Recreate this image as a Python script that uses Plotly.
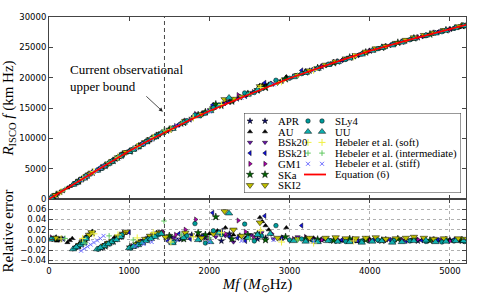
import plotly.graph_objects as go

# ---------------- data ----------------
EQ_X = [0, 250, 500, 750, 1000, 1250, 1500, 1750, 2000, 2500, 3000, 3500, 4000, 4500, 5000, 5200]
EQ_Y = [0, 2000, 4000, 5950, 7900, 9680, 11380, 12990, 14500, 17270, 19900, 22240, 24400, 26290, 28000, 28700]

APR_X = [60, 140, 340, 410, 480, 650, 740, 830, 920, 1060, 1160, 1260, 1370, 1520, 1650, 1780, 1950, 2150, 2380, 2600, 2900, 3250, 3600, 4000, 4400, 4800, 5150,
         3400, 3800, 4200, 4600, 5000, 1900, 2250, 2700, 370, 450, 700, 880, 1110, 1320]
APR_Y = [480, 1120, 2680, 3260, 3860, 5090, 5830, 6580, 7350, 8230, 9020, 9790, 10620, 11580, 12380, 13310, 14260, 15310, 16760, 17840, 19480, 21120, 22610, 24400, 25890, 27380, 28470,
         21820, 23480, 25190, 26600, 28000, 13980, 16090, 18420, 2930, 3600, 5510, 7010, 8630, 10260]
APR_E = [0.002, 0.001, -0.014, -0.005, 0.006, -0.016, -0.008, 0.001, 0.010, -0.012, -0.004, 0.004, 0.012, 0.006, 0.002, 0.010, 0.004, -0.002, 0.008, 0.002, 0.004, 0.001, -0.002, 0.000, -0.001, 0.001, -0.002,
         0.000, -0.001, 0.001, -0.002, 0.000, 0.006, 0.012, 0.004, -0.011, 0.000, -0.009, 0.006, -0.007, 0.010]

AU_X = [20, 100, 130, 160, 230, 260, 290, 320, 390, 460, 530, 620, 720, 820, 950, 1030, 1140, 1250, 1360, 1600, 1850, 2000, 2100, 2200, 2630, 2660, 2700, 2740, 2960, 3300, 3650, 4000, 4300, 4650, 5000, 5180,
        3450, 3850, 4150, 4500, 4850, 5100, 2300, 2450, 350, 500, 670, 870, 1090, 1300]
AU_Y = [160, 800, 1040, 1290, 1830, 2080, 2330, 2520, 3100, 3700, 4290, 4850, 5680, 6530, 7620, 8010, 8870, 9740, 10570, 12040, 13710, 14670, 15330, 16000, 18760, 18780, 18860, 18940, 20170, 21430, 22820, 24420, 25490, 26830, 27970, 28540,
        22050, 23650, 24970, 26240, 27490, 28290, 16340, 17070, 2770, 4040, 5260, 6940, 8480, 10120]
AU_E = [0.001, -0.002, 0.002, 0.004, -0.005, -0.001, 0.003, -0.016, -0.006, 0.006, 0.014, -0.017, -0.006, 0.006, 0.014, -0.013, -0.004, 0.006, 0.014, 0.000, 0.008, 0.012, 0.018, 0.024, 0.044, 0.036, 0.028, 0.020, 0.024, 0.004, -0.002, 0.001, -0.002, 0.000, -0.001, -0.003,
        0.001, -0.003, 0.000, -0.002, -0.001, -0.002, 0.010, 0.004, -0.012, 0.010, -0.012, 0.008, -0.008, 0.010]

BSK20_X = [50, 350, 430, 510, 660, 770, 880, 970, 1080, 1180, 1300, 1400, 1560, 1700, 1880, 2080, 2300, 2520, 2800, 3100, 3500, 3900, 4300, 4700, 5100,
           3300, 3700, 4100, 4500, 4900, 2200, 2650]
BSK20_Y = [400, 2760, 3430, 4120, 5170, 6070, 7000, 7770, 8380, 9180, 10100, 10870, 11820, 12810, 13780, 15040, 16120, 17550, 18940, 20500, 22240, 23930, 25570, 26950, 28350,
           21380, 23100, 24760, 26290, 27710, 15740, 18330]
BSK20_E = [0.003, -0.013, -0.002, 0.011, -0.015, -0.006, 0.005, 0.014, -0.011, -0.002, 0.008, 0.016, 0.004, 0.010, 0.000, 0.006, -0.004, 0.010, 0.002, 0.006, 0.000, -0.001, 0.001, -0.002, 0.000,
           0.002, 0.001, -0.001, 0.000, 0.001, 0.008, 0.014]

BSK21_X = [70, 180, 360, 440, 520, 680, 790, 900, 1000, 1100, 1220, 1330, 1480, 1620, 1760, 1920, 2040, 2250, 2450, 2690, 2900, 3150, 3450, 3850, 4250, 4650, 5050,
           3650, 4050, 4450, 4850, 5180, 2150, 2350]
BSK21_Y = [560, 1440, 2850, 3520, 4210, 5330, 6240, 7170, 8020, 8530, 9480, 10330, 11220, 12310, 13080, 14130, 15500, 16000, 16970, 19160, 19480, 21200, 22050, 23680, 25350, 26800, 28200,
           22870, 24620, 26050, 27520, 28600, 15620, 16530]
BSK21_E = [0.004, 0.002, -0.012, 0.000, 0.012, -0.014, -0.004, 0.007, 0.015, -0.010, 0.000, 0.010, -0.002, 0.012, 0.002, 0.008, 0.053, 0.006, -0.002, 0.047, 0.004, 0.028, 0.001, -0.002, 0.000, -0.001, 0.001,
           0.000, 0.001, -0.002, 0.000, -0.001, 0.018, 0.004]

GM1_X = [30, 310, 400, 490, 630, 720, 810, 930, 1040, 1150, 1280, 1420, 1580, 1830, 1990, 2200, 2360, 2550, 2780, 3050, 3400, 3800, 4200, 4600, 5000,
         3200, 3600, 4000, 4400, 4800, 5150, 2450, 1700, 350, 450, 680, 870, 1100, 1220]
GM1_Y = [240, 2440, 3180, 3950, 4930, 5660, 6420, 7450, 8090, 8950, 9960, 11010, 12030, 14020, 14500, 15810, 17140, 17640, 19020, 20180, 21820, 23550, 25130, 26680, 27940,
         20990, 22670, 24380, 25920, 27380, 28500, 17280, 12930, 2770, 3600, 5340, 6930, 8550, 9500]
GM1_E = [0.005, -0.017, -0.007, 0.008, -0.017, -0.009, 0.000, 0.013, -0.012, -0.003, 0.008, 0.016, 0.010, 0.040, 0.004, 0.012, 0.038, 0.006, 0.012, 0.002, 0.000, 0.002, -0.001, 0.001, -0.002,
         0.006, 0.001, -0.001, 0.000, 0.001, -0.001, 0.016, 0.020, -0.012, 0.000, -0.012, 0.006, -0.008, 0.002]

SKA_X = [90, 370, 450, 540, 700, 800, 900, 1010, 1120, 1230, 1340, 1500, 1680, 1860, 2080, 2280, 2480, 2700, 2950, 3200, 3550, 3950, 4350, 4750, 5150,
         3350, 3750, 4150, 4550, 4950, 2600, 1950]
SKA_Y = [720, 2930, 3600, 4370, 5490, 6320, 7180, 7860, 8710, 9570, 10420, 11470, 12580, 13850, 15620, 16100, 17340, 18350, 19770, 20900, 22420, 24180, 25780, 27150, 28530,
         21600, 23340, 24950, 26500, 27840, 18010, 14340]
SKA_E = [0.003, -0.011, 0.001, 0.014, -0.012, -0.003, 0.008, -0.014, -0.006, 0.003, 0.012, 0.008, 0.002, 0.014, 0.045, 0.002, 0.010, 0.000, 0.006, 0.002, -0.001, 0.000, 0.002, -0.001, 0.000,
         0.001, 0.002, -0.001, 0.001, 0.000, 0.012, 0.010]

SKI2_X = [80, 380, 470, 530, 690, 790, 860, 960, 1090, 1200, 1320, 1450, 1700, 1900, 2190, 2400, 2630, 2850, 3100, 3450, 3700, 3950, 4200, 4450, 4550, 4800, 5100,
          3250, 3575, 3825, 4075, 4325, 4675, 4925, 5180, 2050, 2300, 420, 500, 740, 920, 1140, 1260, 1380]
SKI2_Y = [640, 3010, 3780, 4300, 5420, 6250, 6850, 7710, 8480, 9360, 10280, 11110, 12860, 13960, 16440, 16870, 18580, 19230, 20420, 22120, 23150, 24270, 25210, 26210, 26630, 27400, 28440,
          21180, 22660, 23680, 24810, 25710, 27020, 27840, 28690, 14960, 16500, 3350, 4040, 5840, 7360, 8870, 9830, 10710]
SKI2_E = [0.004, -0.010, 0.004, 0.015, -0.011, -0.002, 0.006, 0.016, -0.008, 0.002, 0.012, 0.006, 0.014, 0.004, 0.056, 0.008, 0.034, 0.004, 0.002, 0.004, 0.003, 0.004, 0.002, 0.004, 0.006, 0.002, 0.003,
          0.004, 0.005, 0.003, 0.005, 0.003, 0.004, 0.003, 0.002, 0.012, 0.020, -0.004, 0.010, -0.006, 0.012, -0.004, 0.008, 0.014]

SLY4_X = [40, 320, 400, 470, 610, 700, 800, 910, 1020, 1120, 1240, 1360, 1560, 1720, 1820, 1950, 2150, 2440, 2560, 2830, 3000, 3300, 3700, 4100, 4500, 4900, 5180,
          3150, 3500, 3900, 4300, 4700, 5050, 2050, 2650, 360, 430, 650, 750, 860, 1070, 1180, 1300]
SLY4_Y = [320, 2520, 3170, 3780, 4770, 5500, 6330, 7270, 7920, 8690, 9630, 10530, 11730, 12910, 13850, 14120, 15490, 17480, 17550, 19580, 19900, 21300, 23010, 24780, 26240, 27570, 28540,
          20660, 22220, 23900, 25510, 26920, 28120, 15050, 18220, 2850, 3430, 5100, 5910, 6830, 8300, 9160, 10080]
SLY4_E = [0.002, -0.016, -0.008, 0.004, -0.018, -0.010, -0.001, 0.010, -0.016, -0.008, 0.002, 0.010, -0.004, 0.008, 0.032, -0.006, 0.010, 0.031, -0.002, 0.028, 0.000, -0.002, -0.003, 0.000, -0.002, -0.004, -0.003,
          0.002, -0.001, -0.002, -0.001, -0.003, -0.002, 0.018, 0.008, -0.012, -0.004, -0.014, -0.006, 0.004, -0.012, -0.004, 0.006]

UU_X = [25, 300, 390, 460, 600, 690, 780, 890, 1000, 1110, 1210, 1320, 1400, 1540, 1680, 1860, 2010, 2245, 2480, 2760, 3050, 3350, 3600, 3900, 4150, 4400, 4700, 4950, 5170,
        3200, 3480, 3750, 4030, 4280, 4550, 4820, 5070, 2120, 2600, 340, 430, 640, 740, 840, 1050, 1160, 1270]
UU_Y = [200, 2360, 3090, 3690, 4690, 5420, 6160, 7080, 7770, 8610, 9390, 10220, 10830, 11570, 12600, 13660, 14500, 16700, 17230, 18900, 20100, 21490, 22580, 23830, 24920, 25820, 26970, 27760, 28540,
        20800, 22110, 23200, 24440, 25340, 26420, 27310, 28190, 15380, 17980, 2680, 3420, 5020, 5830, 6650, 8150, 9000, 9840]
UU_E = [0.001, -0.018, -0.010, 0.002, -0.018, -0.012, -0.004, 0.006, -0.016, -0.010, -0.002, 0.006, 0.012, -0.006, 0.004, 0.000, -0.004, 0.052, 0.004, 0.012, -0.002, -0.004, -0.003, -0.005, -0.002, -0.004, -0.001, -0.003, -0.002,
        -0.003, -0.002, -0.004, -0.003, -0.005, -0.002, -0.004, -0.002, 0.014, 0.010, -0.014, -0.006, -0.015, -0.008, 0.000, -0.013, -0.006, 0.002]

HSOFT_X = [150, 420, 560, 860, 1100, 1300, 1520, 1800, 2150, 2640, 2900, 3300, 3800]
HSOFT_Y = [1200, 3370, 4520, 6880, 8650, 10160, 11470, 13380, 15560, 18360, 19320, 21210, 23450]
HSOFT_E = [0.002, 0.003, 0.012, 0.010, 0.004, 0.014, -0.004, 0.006, 0.014, 0.019, -0.004, -0.006, -0.002]

HINT_X = [200, 450, 750, 1050, 1434, 1650, 2000, 2500, 3100]
HINT_Y = [1600, 3580, 6000, 8260, 11340, 12480, 14560, 17300, 20380]
HINT_E = [0.003, -0.006, 0.008, 0.000, 0.037, 0.010, 0.004, 0.002, 0.000]

HSTIFF_X = [400, 440, 480, 520, 560, 600, 640, 680, 1080, 1180, 1280, 1600, 2000, 2400, 2800, 3300]
HSTIFF_Y = [3130, 3460, 3790, 4120, 4450, 4770, 5110, 5450, 8370, 9120, 9840, 12040, 14440, 16710, 18900, 21280]
HSTIFF_E = [-0.021, -0.017, -0.013, -0.009, -0.005, -0.001, 0.003, 0.008, -0.012, -0.008, -0.004, 0.000, -0.004, -0.002, 0.000, -0.003]

OBS_BOUND = 1440
X_TICKS = [0, 1000, 2000, 3000, 4000, 5000]
Y_TOP_TICKS = [0, 5000, 10000, 15000, 20000, 25000, 30000]
Y_ERR_TICKS = [-0.04, -0.02, 0.00, 0.02, 0.04, 0.06]

# name, x, top, err, symbol, fill colour, size, column, row
SERIES = [
    ("APR", APR_X, APR_Y, APR_E, "star", "#10106a", 4.5, 0, 0),
    ("AU", AU_X, AU_Y, AU_E, "triangle-up", "#000000", 4.5, 0, 1),
    ("BSk20", BSK20_X, BSK20_Y, BSK20_E, "triangle-down", "#6a10b0", 4.5, 0, 2),
    ("BSk21", BSK21_X, BSK21_Y, BSK21_E, "triangle-left", "#1010e0", 4.5, 0, 3),
    ("GM1", GM1_X, GM1_Y, GM1_E, "triangle-right", "#b000b0", 4.5, 0, 4),
    ("SKa", SKA_X, SKA_Y, SKA_E, "star", "#006400", 5.5, 0, 5),
    ("SKI2", SKI2_X, SKI2_Y, SKI2_E, "triangle-down", "#bfbf00", 6.5, 0, 6),
    ("SLy4", SLY4_X, SLY4_Y, SLY4_E, "circle", "#009c9c", 4.5, 1, 0),
    ("UU", UU_X, UU_Y, UU_E, "triangle-up", "#10b0b0", 6.5, 1, 1),
    ("Hebeler et al. (soft)", HSOFT_X, HSOFT_Y, HSOFT_E, "cross-thin", "#f0f040", 5, 1, 2),
    ("Hebeler et al. (intermediate)", HINT_X, HINT_Y, HINT_E, "cross-thin", "#60c860", 4, 1, 3),
    ("Hebeler et al. (stiff)", HSTIFF_X, HSTIFF_Y, HSTIFF_E, "x-thin", "#6a6aff", 4, 1, 4),
]
EQ_LABEL = "Equation (6)"

# ---------------- figure ----------------
W, H = 491, 294
ML, MR, MT, MB = 49, 25, 17, 31
PW, PH = W - ML - MR, H - MT - MB
SPLIT = (263 - 199) / PH

SERIF2 = "Liberation Serif, Times New Roman, serif"
SANS = "DejaVu Sans, sans-serif"

fig = go.Figure()


def mk(sym, col, size):
    if sym.endswith("-thin"):
        return dict(symbol=sym, size=size, color=col, line=dict(color=col, width=1))
    return dict(symbol=sym, size=size, color=col, line=dict(color="black", width=0.5))


for name, xs, ys, es, sym, col, size, c, r in SERIES:
    fig.add_trace(go.Scatter(x=xs, y=ys, mode="markers", marker=mk(sym, col, size),
                             xaxis="x2", yaxis="y2", showlegend=False, name=name))
    fig.add_trace(go.Scatter(x=xs, y=es, mode="markers", marker=mk(sym, col, size),
                             xaxis="x", yaxis="y", showlegend=False, name=name))

fig.add_trace(go.Scatter(x=EQ_X, y=EQ_Y, mode="lines", line=dict(color="#ff0000", width=1.8),
                         xaxis="x2", yaxis="y2", showlegend=False, name=EQ_LABEL))

# ----- custom legend (positions in pixel units on a hidden helper axis) -----
LBX0, LBX1, LBY0, LBY1 = 244, 461, 113, 193
ROW0, ROWH = 121, 10.7
COLS = [(250, 265, 277), (308, 322, 334)]
LEGFONT = dict(family=SERIF2, size=10.8, color="black")
for name, xs, ys, es, sym, col, size, c, r in SERIES:
    m1, m2, tx = COLS[c]
    yy = ROW0 + r * ROWH
    fig.add_trace(go.Scatter(x=[m1, m2], y=[yy, yy], mode="markers", marker=mk(sym, col, size),
                             xaxis="x3", yaxis="y3", showlegend=False, hoverinfo="skip"))
    fig.add_annotation(x=tx, y=yy, xref="x3", yref="y3", text=name, showarrow=False, borderpad=0,
                       xanchor="left", yanchor="middle", font=LEGFONT)
m1, m2, tx = COLS[1]
yy = ROW0 + 5 * ROWH
fig.add_trace(go.Scatter(x=[m1 - 4, m2 + 4], y=[yy, yy], mode="lines", line=dict(color="#ff0000", width=1.8),
                         xaxis="x3", yaxis="y3", showlegend=False, hoverinfo="skip"))
fig.add_annotation(x=tx, y=yy, xref="x3", yref="y3", text=EQ_LABEL, showarrow=False, borderpad=0,
                   xanchor="left", yanchor="middle", font=LEGFONT)
fig.add_shape(type="rect", xref="x3", yref="y3", x0=LBX0, x1=LBX1, y0=LBY0, y1=LBY1,
              line=dict(color="#333333", width=1), fillcolor="white", layer="below")

# dashed observational bound
fig.add_shape(type="line", xref="x", yref="paper", x0=OBS_BOUND, x1=OBS_BOUND, y0=0, y1=1,
              line=dict(color="#333333", width=0.9, dash="4px,3px"))

# annotation text + arrow
fig.add_annotation(x=250, y=19900, xref="x2", yref="y2", text="Current observational<br>upper bound",
                   showarrow=False, xanchor="left", yanchor="middle", align="left", borderpad=0,
                   font=dict(family=SERIF2, size=13, color="black"))
fig.add_annotation(x=1420, y=14400, xref="x2", yref="y2", ax=1195, ay=17150, axref="x2", ayref="y2",
                   text="", showarrow=True, arrowhead=2, arrowsize=1, arrowwidth=0.8, arrowcolor="#222222")

tickfont = dict(family=SANS, size=8.5, color="black")
axcommon = dict(showline=True, linecolor="#444444", linewidth=1, mirror="allticks", ticks="inside",
                ticklen=4, tickcolor="#444444", tickfont=tickfont, zeroline=False)
titlefont = dict(family=SERIF2, size=15, color="black")

fig.update_layout(
    width=W, height=H, margin=dict(l=ML, r=MR, t=MT, b=MB, autoexpand=False),
    paper_bgcolor="white", plot_bgcolor="rgba(0,0,0,0)", showlegend=False,
    xaxis=dict(domain=[0, 1], anchor="y", range=[0, 5200], tickvals=X_TICKS,
               showgrid=True, gridcolor="#b0b0b0", griddash="dot", gridwidth=1,
               title=dict(text="<i>Mf</i> (<i>M</i><sub>⊙</sub>Hz)", font=titlefont, standoff=1),
               **axcommon),
    yaxis=dict(domain=[0, SPLIT], anchor="x", range=[-0.045, 0.08], tickvals=Y_ERR_TICKS, tickformat=".2f",
               showgrid=True, gridcolor="#b0b0b0", griddash="dot", gridwidth=1,
               title=dict(text="Relative error", font=titlefont, standoff=3),
               **axcommon),
    xaxis2=dict(domain=[0, 1], anchor="y2", range=[0, 5200], tickvals=X_TICKS, matches="x",
                showticklabels=False, showgrid=False, **axcommon),
    yaxis2=dict(domain=[SPLIT, 1], anchor="x2", range=[0, 30000], tickvals=Y_TOP_TICKS, tickformat="d",
                showgrid=False,
                title=dict(text="<i>R</i><sub>ISCO</sub> <i>f</i> (km Hz)", font=titlefont, standoff=3),
                **axcommon),
    xaxis3=dict(domain=[(LBX0 - ML) / PW, (LBX1 - ML) / PW], anchor="y3", range=[LBX0, LBX1], visible=False),
    yaxis3=dict(domain=[(263 - LBY1) / PH, (263 - LBY0) / PH], anchor="x3", range=[LBY1, LBY0], visible=False),
)

fig.write_html("out.html", config={"displayModeBar": False},
               post_script="document.body.style.margin='0';document.body.style.overflow='hidden';")
